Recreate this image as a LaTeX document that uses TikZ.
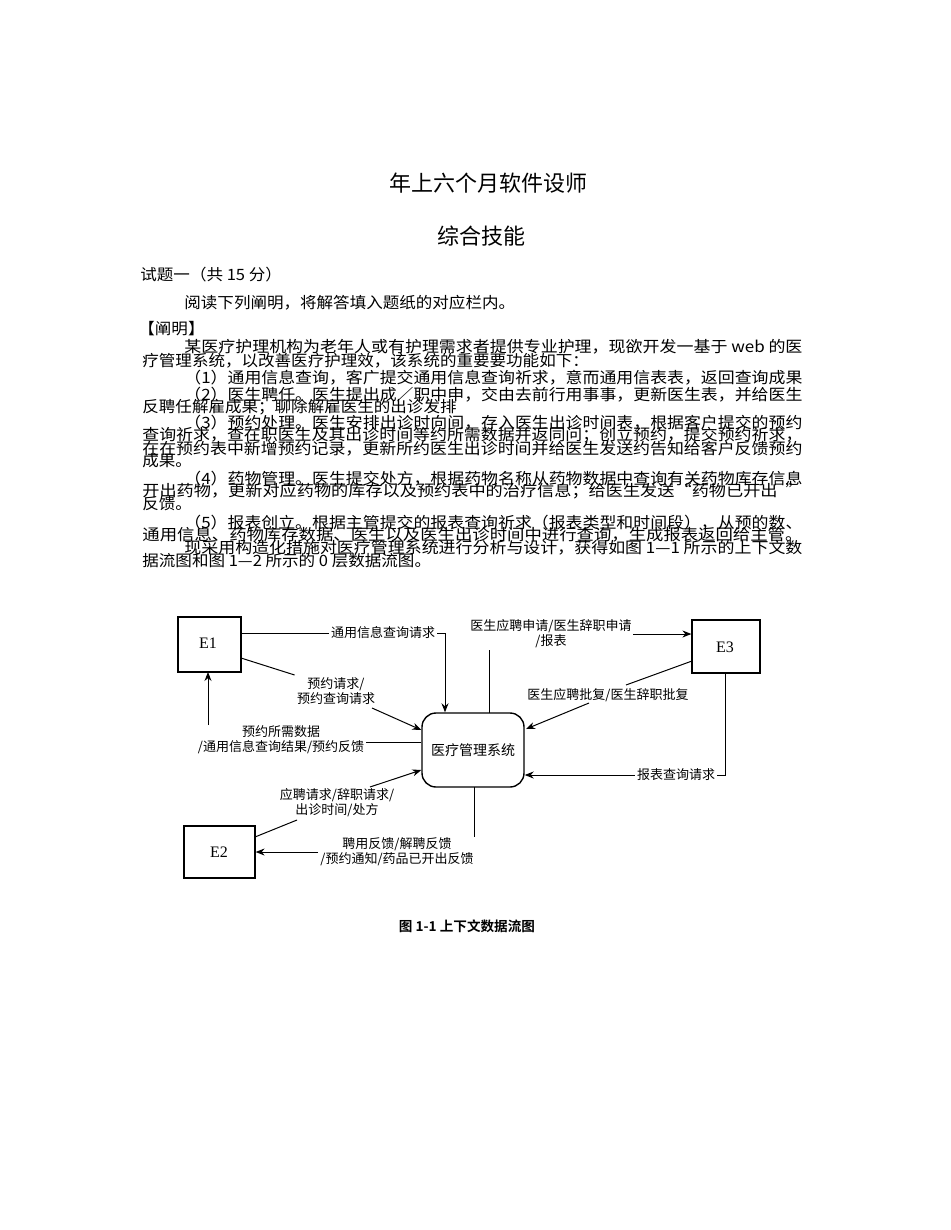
\documentclass[tikz,border=0pt]{standalone}
\usepackage{fontspec}
\usepackage{graphicx}
\setmainfont{Liberation Serif}
\newfontfamily\cjk{Noto Sans CJK SC}
\newfontfamily\cjkb{Noto Sans CJK SC Bold}
\usetikzlibrary{arrows.meta}
\newcommand{\jl}[4]{\node[anchor=west,inner sep=0,font=\cjk\fontsize{7.8pt}{9pt}\selectfont] (#1) at #2 {\resizebox{#3}{\height}{#4}};}
\newcommand{\nl}[3]{\node[anchor=west,inner sep=0,font=\cjk\fontsize{7.8pt}{9pt}\selectfont] (#1) at #2 {\resizebox{1.06\width}{\height}{#3}};}
\begin{document}
\begin{tikzpicture}[x=0.5pt,y=-0.5pt,
  ent/.style={draw,line width=0.6pt,inner sep=0},
  lbl/.style={font=\cjk\fontsize{6.5pt}{7.6pt}\selectfont,align=center,inner sep=1pt},
  ln/.style={line width=0.5pt},
  arr/.style={line width=0.5pt,-{Stealth[length=4.5pt,width=3.5pt]}}]
\useasboundingbox[fill=white] (0,0) rectangle (950,1230);
% titles
\node[font=\cjk\fontsize{11pt}{12pt}\selectfont] (t1) at (488,183) {年上六个月软件设师};
\node[font=\cjk\fontsize{11pt}{12pt}\selectfont] (t2) at (481,236) {综合技能};
% body
\nl{b1}{(140,275)}{试题一（共 15 分）}
\nl{b2}{(184,303)}{阅读下列阐明，将解答填入题纸的对应栏内。}
\nl{b3}{(138,329)}{【阐明】}
\jl{b4}{(184,347)}{309pt}{某医疗护理机构为老年人或有护理需求者提供专业护理，现欲开发一基于 web 的医}
\nl{b5}{(142,361)}{疗管理系统，以改善医疗护理效，该系统的重要要功能如下：}
\jl{b6}{(184,378)}{309pt}{（1）通用信息查询，客广提交通用信息查询祈求，意而通用信表表，返回查询成果}
\jl{b7}{(184,395)}{309pt}{（2）医生聘任。医生提出成／职中申，交由去前行用事事，更新医生表，并给医生}
\nl{b8}{(142,407)}{反聘任解雇成果；聊除解雇医生的出诊发排}
\jl{b9}{(184,423)}{309pt}{（3）预约处理。医生安排出诊时向间，存入医生出诊时间表，根据客户提交的预约}
\jl{b10}{(142,435)}{330pt}{查询祈求，查在职医生及其出诊时间等约所需数据并返同问；创立预约，提交预约祈求，}
\jl{b11}{(142,449)}{330pt}{在在预约表中新增预约记录，更新所约医生出诊时间并给医生发送约告知给客户反馈预约}
\nl{b12}{(142,461)}{成果。}
\jl{b13}{(184,479)}{309pt}{（4）药物管理。医生提交处方，根据药物名称从药物数据中查询有关药物库存信息}
\jl{b14}{(142,491)}{330pt}{开出药物，更新对应药物的库存以及预约表中的治疗信息；给医生发送“药物已开出\ \ ”}
\nl{b15}{(142,504)}{反馈。}
\jl{b16}{(184,523)}{309pt}{（5）报表创立。根据主管提交的报表查询祈求（报表类型和时间段），从预的数、}
\jl{b17}{(142,535)}{330pt}{通用信息、药物库存数据、医生以及医生出诊时间中进行查询，生成报表返回给主管。}
\jl{b18}{(184,548)}{309pt}{现采用构造化措施对医疗管理系统进行分析与设计，获得如图 1—1 所示的上下文数}
\nl{b19}{(142,561)}{据流图和图 1—2 所示的 0 层数据流图。}
% diagram entities
\node[ent,minimum width=31.5pt,minimum height=27.5pt] (E1) at (209.5,644.5) {};
\node[font=\fontsize{8pt}{9pt}\selectfont] at (208,643) {E1};
\node[ent,minimum width=34pt,minimum height=26.5pt] (E3) at (726,646.5) {};
\node[font=\fontsize{8pt}{9pt}\selectfont] at (725,647) {E3};
\node[ent,minimum width=35.5pt,minimum height=26pt] (E2) at (219.5,852) {};
\node[font=\fontsize{8pt}{9pt}\selectfont] at (219,852) {E2};
\node[draw,line width=0.7pt,rounded corners=7pt,minimum width=51pt,minimum height=37pt,font=\cjk\fontsize{7pt}{8pt}\selectfont] (S) at (473,750) {医疗管理系统};
% labels
\node[lbl] (L1) at (383,633) {通用信息查询请求};
\node[lbl] (L2) at (336,691) {预约请求/\\预约查询请求};
\node[lbl] (L3) at (281,740) {预约所需数据\\/通用信息查询结果/预约反馈};
\node[lbl] (L4) at (337,803) {应聘请求/辞职请求/\\出诊时间/处方};
\node[lbl] (L5) at (397,852) {聘用反馈/解聘反馈\\/预约通知/药品已开出反馈};
\node[lbl] (L6) at (551,634) {医生应聘申请/医生辞职申请\\/报表};
\node[lbl] (L7) at (608,695) {医生应聘批复/医生辞职批复};
\node[lbl] (L8) at (676,775) {报表查询请求};
% connectors
\coordinate (c1) at (445,633);
\draw[ln] (E1.east |- L1) -- (L1.west);
\draw[arr] (L1.east) -- (c1) -- (c1 |- S.north);
\draw[ln] (241,658) -- (L2.north west);
\draw[arr] (372,708) -- (S.west |- 0,730);
\draw[ln] (S.west |- 0,742) -- (366,742);
\draw[arr] (208,725) -- (208,672);
\draw[ln] (255,837) -- (297,820);
\draw[arr] (370,787) -- (S.west |- 0,770);
\draw[ln] (474,787) -- (474,837);
\draw[arr] (L5.west) -- (L5.west -| E2.east);
\draw[ln] (489,713) -- (489,650);
\draw[arr] (633,634) -- (E3.west |- 0,634);
\draw[ln] (692,661) -- (626,685);
\draw[arr] (589,703) -- (526,729);
\coordinate (c8) at (725,775);
\draw[ln] (725,673) -- (c8) -- (L8.east);
\draw[arr] (L8.west) -- (S.east |- L8);
% caption
\node[font=\cjkb\fontsize{6.8pt}{8pt}\selectfont] (cap) at (467,926) {图 1-1 上下文数据流图};
\end{tikzpicture}
\end{document}
